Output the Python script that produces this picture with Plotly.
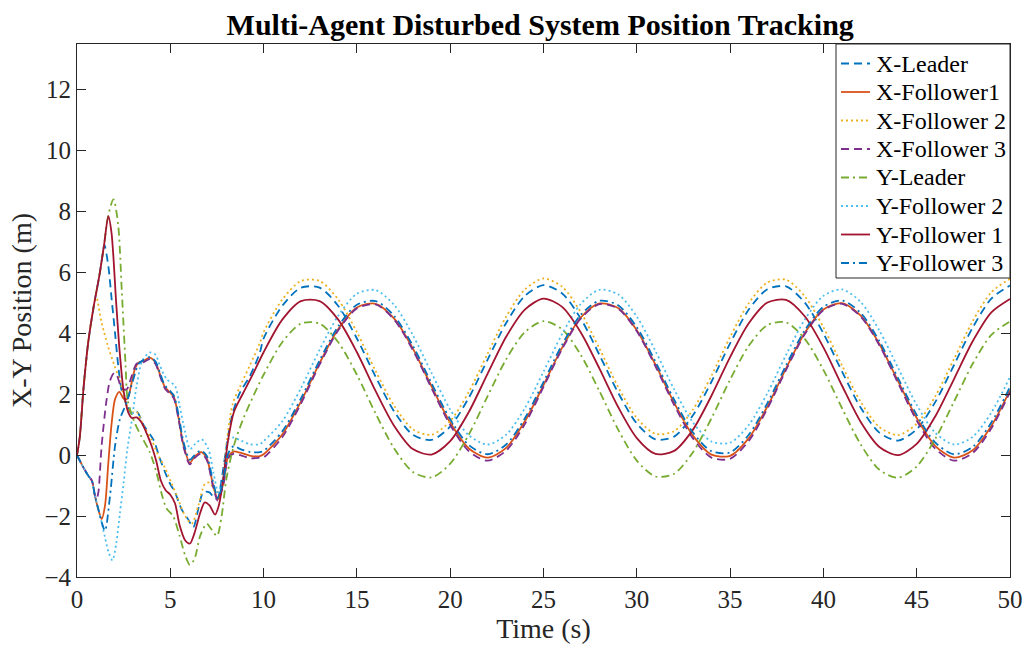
import plotly.graph_objects as go

# ---------------- data ----------------
# start-up transient (per-series sampling)
t_x_leader_early = [0, 0.15, 0.35, 0.6, 0.9, 1.2, 1.35, 1.47, 1.68, 1.86, 2.04, 2.21, 2.4, 2.7, 2.95, 3.2, 3.6, 4.1, 4.45, 4.8, 5.0, 5.25, 5.6, 5.95, 6.23, 6.5, 6.77, 7.1, 7.4, 7.55, 7.75, 8.02, 8.3, 8.73, 9.27, 9.8]
x_leader_early = [0, 0.6, 2.2, 3.7, 4.9, 5.9, 6.5, 6.9, 6.2, 5.1, 4.0, 2.93, 2.1, 1.6, 1.35, 1.43, 0.96, 0.5, -0.13, -0.68, -0.95, -1.22, -1.77, -2.1, -2.37, -1.77, -1.22, -1.22, -1.44, -1.4, -0.79, 0.31, 1.29, 2.05, 2.6, 3.37]

t_x_f1_early = [0, 0.34, 0.61, 0.8, 0.96, 1.14, 1.32, 1.5, 1.68, 1.86, 2.04, 2.27, 2.5, 2.7, 2.9, 3.1, 3.3, 3.55, 3.9, 4.2, 4.45, 4.7, 5.0, 5.2, 5.45, 5.7, 6.05, 6.3, 6.65, 6.95, 7.3, 7.55, 7.85, 8.1, 8.4, 8.75, 9.3, 9.8]
x_f1_early = [0, -0.4, -0.68, -0.84, -1.33, -1.77, -2.1, -1.66, -0.24, 1.07, 1.84, 2.08, 1.85, 1.85, 2.3, 2.82, 3.04, 3.09, 3.2, 3.04, 2.65, 2.25, 2.05, 1.9, 1.2, 0.35, -0.25, -0.05, 0.1, -0.1, -1.0, -1.45, -0.9, -0.05, 0.12, 0.08, -0.02, -0.03]

t_x_f2_early = [0, 0.15, 0.35, 0.6, 0.9, 1.02, 1.3, 1.65, 2.0, 2.3, 2.6, 2.9, 3.2, 3.55, 4.0, 4.35, 4.7, 5.05, 5.4, 5.8, 6.15, 6.5, 6.85, 7.1, 7.45, 7.7, 8.0, 8.35, 8.75, 9.25, 9.8]
x_f2_early = [0, 0.6, 2.2, 3.7, 4.9, 5.25, 4.4, 3.6, 2.95, 2.45, 1.75, 1.4, 1.42, 0.98, 0.5, 0.0, -0.4, -0.9, -1.42, -2.0, -2.25, -1.66, -0.95, -0.9, -1.22, -1.15, 0.35, 1.7, 2.27, 2.93, 3.69]

t_x_f3_early = [0, 0.34, 0.61, 0.8, 0.95, 1.05, 1.15, 1.32, 1.59, 1.77, 2.0, 2.15, 2.4, 2.66, 2.93, 3.2, 3.55, 3.9, 4.2, 4.45, 4.7, 5.0, 5.2, 5.45, 5.7, 6.05, 6.3, 6.65, 6.95, 7.3, 7.55, 7.85, 8.1, 8.4, 8.75, 9.3, 9.8]
x_f3_early = [0, -0.4, -0.68, -0.84, -1.3, -1.45, -1.2, 0.31, 1.84, 2.45, 2.7, 2.6, 2.2, 2.16, 2.6, 3.0, 3.05, 3.15, 3.0, 2.6, 2.2, 2.0, 1.85, 1.15, 0.3, -0.3, -0.1, 0.05, -0.15, -1.05, -1.5, -0.95, -0.1, 0.05, 0.0, -0.1, -0.08]

t_y_leader_early = [0, 0.15, 0.35, 0.6, 0.9, 1.2, 1.45, 1.65, 1.95, 2.2, 2.4, 2.6, 2.72, 3.1, 3.45, 3.9, 4.25, 4.55, 4.8, 5.15, 5.5, 5.8, 6.05, 6.3, 6.6, 6.95, 7.2, 7.5, 7.75, 8.0, 8.4, 8.9, 9.45]
y_leader_early = [0, 0.6, 2.2, 3.7, 4.9, 5.9, 6.9, 7.8, 8.4, 7.6, 5.4, 3.0, 1.8, 1.05, 0.62, 0.1, -0.55, -1.3, -1.75, -2.0, -2.65, -3.3, -3.6, -3.4, -2.65, -2.25, -2.43, -2.65, -2.0, -0.8, 0.3, 1.18, 1.94]

t_y_f2_early = [0, 0.34, 0.61, 0.8, 0.96, 1.14, 1.32, 1.5, 1.7, 1.9, 2.1, 2.3, 2.5, 2.7, 2.95, 3.2, 3.5, 3.9, 4.2, 4.45, 4.8, 5.25, 5.5, 5.8, 6.06, 6.32, 6.68, 7.04, 7.31, 7.57, 7.84, 8.11, 8.38, 8.82, 9.27, 9.8]
y_f2_early = [0, -0.4, -0.68, -0.84, -1.33, -1.77, -2.2, -2.7, -3.2, -3.45, -2.9, -1.9, -0.9, 0.2, 1.2, 2.3, 3.1, 3.37, 3.3, 2.93, 2.5, 2.27, 1.62, 0.74, 0.2, 0.36, 0.52, 0.2, -0.57, -1.22, -0.68, 0.52, 0.58, 0.47, 0.36, 0.36]

t_y_f1_early = [0, 0.15, 0.35, 0.6, 0.9, 1.2, 1.45, 1.68, 1.85, 2.1, 2.3, 2.5, 2.75, 2.95, 3.2, 3.45, 3.8, 4.0, 4.25, 4.5, 4.75, 5.0, 5.25, 5.5, 5.8, 6.05, 6.3, 6.6, 6.85, 7.1, 7.4, 7.6, 7.85, 8.1, 8.4, 8.7, 9.0, 9.5]
y_f1_early = [0, 0.6, 2.2, 3.7, 4.9, 5.9, 6.9, 7.85, 7.3, 5.0, 3.3, 2.1, 1.4, 1.22, 1.24, 1.08, 0.62, 0.3, -0.2, -0.85, -1.15, -1.3, -1.58, -2.3, -2.8, -2.9, -2.55, -1.9, -1.55, -1.65, -1.95, -1.65, -0.7, 0.5, 1.4, 1.8, 2.15, 2.75]

t_y_f3_early = [0, 0.34, 0.61, 0.8, 0.96, 1.14, 1.32, 1.5, 1.77, 2.04, 2.3, 2.66, 3.0, 3.3, 3.55, 3.9, 4.2, 4.45, 4.7, 5.0, 5.2, 5.45, 5.7, 6.05, 6.3, 6.65, 6.95, 7.3, 7.55, 7.85, 8.1, 8.4, 8.75, 9.3, 9.8]
y_f3_early = [0, -0.4, -0.68, -0.84, -1.33, -1.77, -2.2, -2.48, -1.33, 0.31, 1.18, 1.73, 2.45, 3.0, 3.12, 3.22, 3.08, 2.7, 2.3, 2.1, 1.95, 1.3, 0.45, -0.15, 0.0, 0.15, -0.02, -0.9, -1.4, -0.8, 0.05, 0.3, 0.2, 0.1, 0.1]

# steady tracking phase, sampled every second from 10 s to 50 s
t_steady = list(range(10, 51))
x_leader_steady = [3.83, 4.90, 5.50, 5.50, 4.90, 3.83, 2.58, 1.43, 0.67, 0.50, 0.94, 1.89, 3.13, 4.34, 5.23, 5.58, 5.31, 4.48, 3.29, 2.05, 1.04, 0.52, 0.61, 1.30, 2.41, 3.67, 4.78, 5.45, 5.54, 5.01, 4.00, 2.74, 1.56, 0.74, 0.48, 0.85, 1.75, 2.96, 4.19, 5.14, 5.57]
x_f1_steady = [0.03, 0.68, 1.76, 3.02, 4.14, 4.85, 4.97, 4.48, 3.50, 2.26, 1.07, 0.22, -0.08, 0.24, 1.11, 2.30, 3.53, 4.52, 4.98, 4.83, 4.10, 2.97, 1.72, 0.65, 0.02, -0.02, 0.56, 1.60, 2.85, 4.01, 4.78, 4.99, 4.58, 3.65, 2.43, 1.22, 0.30, -0.08, 0.16, 0.96, 2.13]
x_f2_steady = [4.04, 5.11, 5.72, 5.72, 5.11, 4.04, 2.77, 1.62, 0.85, 0.67, 1.12, 2.08, 3.33, 4.55, 5.44, 5.80, 5.53, 4.69, 3.50, 2.24, 1.22, 0.70, 0.79, 1.49, 2.61, 3.88, 4.99, 5.67, 5.76, 5.22, 4.20, 2.94, 1.75, 0.92, 0.66, 1.03, 1.94, 3.16, 4.40, 5.35, 5.79]
x_f3_steady = [-0.07, 0.59, 1.69, 2.97, 4.10, 4.82, 4.95, 4.45, 3.45, 2.20, 0.99, 0.13, -0.18, 0.15, 1.02, 2.24, 3.49, 4.49, 4.96, 4.81, 4.07, 2.92, 1.65, 0.56, -0.08, -0.12, 0.47, 1.53, 2.80, 3.97, 4.76, 4.97, 4.55, 3.61, 2.37, 1.14, 0.21, -0.18, 0.07, 0.88, 2.07]
y_leader_steady = [2.64, 3.71, 4.32, 4.32, 3.71, 2.64, 1.37, 0.22, -0.55, -0.73, -0.28, 0.68, 1.93, 3.15, 4.04, 4.40, 4.13, 3.29, 2.10, 0.84, -0.18, -0.70, -0.61, 0.09, 1.21, 2.48, 3.59, 4.27, 4.36, 3.82, 2.80, 1.54, 0.35, -0.48, -0.74, -0.37, 0.54, 1.76, 3.00, 3.95, 4.39]
y_f2_steady = [0.46, 1.11, 2.20, 3.46, 4.58, 5.30, 5.42, 4.93, 3.94, 2.70, 1.50, 0.65, 0.35, 0.67, 1.54, 2.74, 3.98, 4.97, 5.43, 5.28, 4.55, 3.42, 2.16, 1.08, 0.45, 0.41, 0.99, 2.04, 3.29, 4.45, 5.23, 5.44, 5.03, 4.09, 2.87, 1.65, 0.73, 0.35, 0.60, 1.40, 2.57]
y_f1_steady = [3.38, 4.45, 5.06, 5.06, 4.45, 3.38, 2.11, 0.96, 0.20, 0.02, 0.46, 1.42, 2.67, 3.89, 4.78, 5.14, 4.87, 4.03, 2.84, 1.58, 0.56, 0.04, 0.14, 0.83, 1.95, 3.22, 4.33, 5.01, 5.10, 4.56, 3.54, 2.28, 1.09, 0.27, 0.00, 0.37, 1.28, 2.50, 3.74, 4.69, 5.13]
y_f3_steady = [0.14, 0.78, 1.86, 3.11, 4.23, 4.94, 5.06, 4.57, 3.59, 2.36, 1.18, 0.33, 0.03, 0.35, 1.21, 2.40, 3.63, 4.61, 5.07, 4.92, 4.20, 3.07, 1.82, 0.75, 0.13, 0.09, 0.67, 1.71, 2.95, 4.10, 4.87, 5.08, 4.67, 3.74, 2.53, 1.32, 0.41, 0.03, 0.27, 1.07, 2.24]

x_ticks = list(range(0, 51, 5))
y_ticks = list(range(-4, 13, 2))

# ---------------- styling ----------------
SERIF = "Liberation Serif, Times New Roman, serif"
DASH = "8px,5px"
DOT = "2px,3px"
DASHDOT = "8px,4px,2px,4px"
AXIS_COLOR = "#262626"

W, H = 1029, 653
M_L, M_R, M_T, M_B = 77, 19, 44, 76

series = [
    ("X-Leader", t_x_leader_early, x_leader_early, x_leader_steady, "#0072BD", DASH),
    ("X-Follower1", t_x_f1_early, x_f1_early, x_f1_steady, "#D95319", "solid"),
    ("X-Follower 2", t_x_f2_early, x_f2_early, x_f2_steady, "#EDB120", DOT),
    ("X-Follower 3", t_x_f3_early, x_f3_early, x_f3_steady, "#7E2F8E", DASH),
    ("Y-Leader", t_y_leader_early, y_leader_early, y_leader_steady, "#77AC30", DASHDOT),
    ("Y-Follower 2", t_y_f2_early, y_f2_early, y_f2_steady, "#4DBEEE", DOT),
    ("Y-Follower 1", t_y_f1_early, y_f1_early, y_f1_steady, "#A2142F", "solid"),
    ("Y-Follower 3", t_y_f3_early, y_f3_early, y_f3_steady, "#0072BD", DASHDOT),
]

fig = go.Figure()
for name, t_early, v_early, v_steady, color, dash in series:
    fig.add_trace(go.Scatter(
        x=t_early + t_steady,
        y=v_early + v_steady,
        mode="lines",
        name=name,
        showlegend=False,
        line=dict(color=color, width=1.8, dash=dash, shape="spline", smoothing=0.8),
    ))

# ---- boxed legend in the upper-right corner of the axes ----
plot_w = W - M_L - M_R
plot_h = H - M_T - M_B


def px_x(px):
    return (px - M_L) / plot_w


def px_y(py):
    return (H - M_B - py) / plot_h


legend_left, legend_bottom = 836, 278
row_top, row_step = 63.5, 28.5
shapes = [dict(type="rect", xref="paper", yref="paper",
               x0=px_x(legend_left), x1=1.0, y0=px_y(legend_bottom), y1=1.0,
               line=dict(color=AXIS_COLOR, width=1), fillcolor="white", layer="above")]
annotations = []
for i, (name, _, _, _, color, dash) in enumerate(series):
    yy = px_y(row_top + i * row_step)
    shapes.append(dict(type="line", xref="paper", yref="paper",
                       x0=px_x(841), x1=px_x(870), y0=yy, y1=yy,
                       line=dict(color=color, width=1.8, dash=dash), layer="above"))
    annotations.append(dict(xref="paper", yref="paper", x=px_x(874), y=yy,
                            xanchor="left", yanchor="middle", showarrow=False,
                            text=name, font=dict(family=SERIF, size=24, color="black")))

axis_common = dict(
    showline=True, linecolor=AXIS_COLOR, linewidth=1, mirror="ticks",
    ticks="inside", ticklen=9, tickwidth=1, tickcolor=AXIS_COLOR,
    showgrid=False, zeroline=False, automargin=False,
    tickfont=dict(family=SERIF, size=25, color=AXIS_COLOR),
)

fig.update_layout(
    width=W, height=H,
    margin=dict(l=M_L, r=M_R, t=M_T, b=M_B, autoexpand=False),
    paper_bgcolor="white", plot_bgcolor="white",
    title=dict(
        text="Multi-Agent Disturbed System Position Tracking",
        x=0.525, xanchor="center", y=0.962, yanchor="middle",
        font=dict(family=SERIF, size=30, color="black", weight="bold"),
    ),
    xaxis=dict(range=[0, 50], tickvals=x_ticks,
               title=dict(text="Time (s)", font=dict(family=SERIF, size=28, color=AXIS_COLOR), standoff=6),
               **axis_common),
    yaxis=dict(range=[-4, 13.5], tickvals=y_ticks,
               title=dict(text="X-Y Position (m)", font=dict(family=SERIF, size=28, color=AXIS_COLOR), standoff=4),
               **axis_common),
    shapes=shapes,
    annotations=annotations,
    showlegend=False,
)

fig.write_html("out.html")
